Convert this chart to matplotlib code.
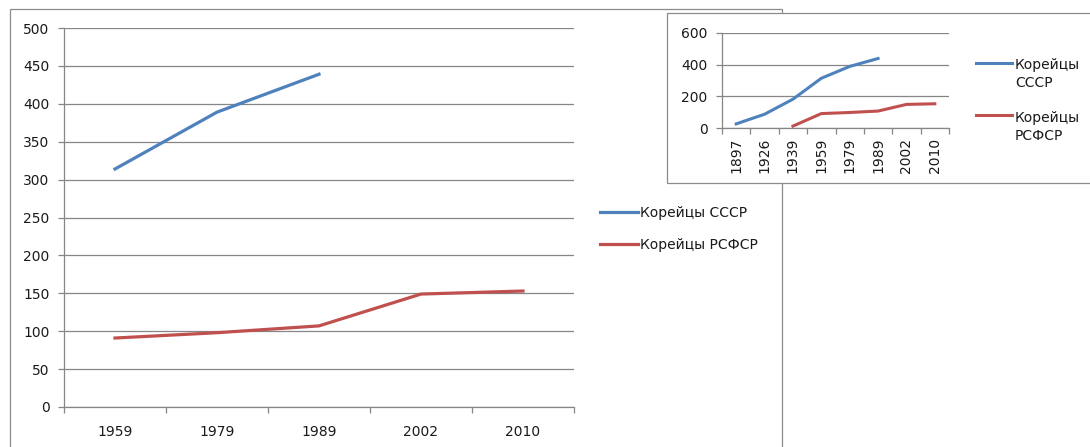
import matplotlib
matplotlib.use("Agg")
import matplotlib.pyplot as plt
from matplotlib.patches import Rectangle
from matplotlib.legend_handler import HandlerLine2D
import numpy as np

plt.rcParams['font.family'] = ['DejaVu Sans']

# Main chart data
main_years = ["1959", "1979", "1989", "2002", "2010"]
ussr_main = [314, 389, 439, None, None]
rsfsr_main = [91, 98, 107, 149, 153]

# Inset chart data
inset_years = ["1897", "1926", "1939", "1959", "1979", "1989", "2002", "2010"]
ussr_inset = [26, 87, 182, 314, 389, 439, None, None]
rsfsr_inset = [None, None, 12, 91, 98, 107, 149, 153]

main_ticks = [0, 50, 100, 150, 200, 250, 300, 350, 400, 450, 500]
inset_ticks = [0, 200, 400, 600]

label_ussr = "Корейцы СССР"
label_rsfsr = "Корейцы РСФСР"
label_ussr_inset = "Корейцы\nСССР"
label_rsfsr_inset = "Корейцы\nРСФСР"

BLUE = "#4F81BD"
RED = "#C0504D"
GRID = "#868686"
TXT = "#1a1a1a"
FS = 10

W, H = 1090, 447
fig = plt.figure(figsize=(W / 100, H / 100), dpi=100)
fig.patch.set_facecolor("white")


def fx(px):
    return px / W


def fy(py):
    return 1 - py / H


class TopHandler(HandlerLine2D):
    """Place the legend line at the first text line of a two-line label."""
    def __init__(self, shift, **kw):
        super().__init__(**kw)
        self.shift = shift

    def create_artists(self, legend, orig_handle, xdescent, ydescent,
                       width, height, fontsize, trans):
        arts = super().create_artists(legend, orig_handle, xdescent, ydescent,
                                      width, height, fontsize, trans)
        for a in arts:
            a.set_ydata(np.asarray(a.get_ydata(), dtype=float) + self.shift)
        return arts


# Outer frame of the main chart
fig.add_artist(Rectangle((fx(10), fy(470)), fx(782) - fx(10), fy(9) - fy(470),
                         transform=fig.transFigure, fill=False,
                         edgecolor="#8c8c8c", lw=0.9, zorder=0))


def to_arr(v):
    return np.array([np.nan if x is None else x for x in v], dtype=float)


def style_axes(ax, n, ticks, fs):
    ax.set_xlim(-0.5, n - 0.5)
    ax.set_ylim(ticks[0], ticks[-1])
    for s in ["top", "right"]:
        ax.spines[s].set_visible(False)
    for s in ["left", "bottom"]:
        ax.spines[s].set_color(GRID)
        ax.spines[s].set_linewidth(0.9)
    ax.set_yticks(ticks)
    ax.set_yticklabels([str(t) for t in ticks], fontsize=fs, color=TXT)
    ax.yaxis.grid(True, color=GRID, lw=0.9)
    ax.set_axisbelow(True)
    ax.tick_params(axis="y", length=4.5, width=0.9, color=GRID, pad=6)
    ax.set_xticks(np.arange(-0.5, n, 1.0))
    ax.set_xticklabels([])
    ax.tick_params(axis="x", which="major", length=4, width=0.9, color=GRID)


# Main axes
ax = fig.add_axes([fx(64), fy(407), fx(574) - fx(64), fy(28) - fy(407)])
xm = np.arange(len(main_years))
ax.plot(xm, to_arr(ussr_main), color=BLUE, lw=2.3, label=label_ussr)
ax.plot(xm, to_arr(rsfsr_main), color=RED, lw=2.3, label=label_rsfsr)
style_axes(ax, len(main_years), main_ticks, FS)
ax.set_xticks(xm, minor=True)
ax.set_xticklabels(main_years, minor=True, fontsize=FS, color=TXT)
ax.tick_params(axis="x", which="minor", length=0, pad=13)
leg = ax.legend(loc="center left", bbox_to_anchor=(fx(600), fy(229)),
                bbox_transform=fig.transFigure, frameon=False, fontsize=FS,
                handlelength=2.75, handletextpad=0.15, labelspacing=1.3,
                borderaxespad=0, borderpad=0)
for t in leg.get_texts():
    t.set_color(TXT)

# Inset frame
fig.add_artist(Rectangle((fx(667), fy(183)), fx(1110) - fx(667), fy(13) - fy(183),
                         transform=fig.transFigure, facecolor="white",
                         edgecolor="#8c8c8c", lw=0.9, zorder=1))

ax2 = fig.add_axes([fx(722), fy(128), fx(949) - fx(722), fy(33) - fy(128)])
ax2.set_zorder(2)
ax2.patch.set_alpha(0)
xi = np.arange(len(inset_years))
l1, = ax2.plot(xi, to_arr(ussr_inset), color=BLUE, lw=2.2, label=label_ussr_inset)
l2, = ax2.plot(xi, to_arr(rsfsr_inset), color=RED, lw=2.2, label=label_rsfsr_inset)
style_axes(ax2, len(inset_years), inset_ticks, FS)
ax2.set_xticks(xi, minor=True)
ax2.set_xticklabels(inset_years, minor=True, fontsize=FS, color=TXT, rotation=90)
ax2.tick_params(axis="x", which="minor", length=0, pad=7)
leg2 = ax2.legend(loc="upper left", bbox_to_anchor=(fx(976), fy(58)),
                  bbox_transform=fig.transFigure, frameon=False, fontsize=FS,
                  handlelength=2.6, handletextpad=0.2, labelspacing=1.5,
                  borderaxespad=0, borderpad=0,
                  handler_map={l1: TopHandler(shift=FS * 0.85),
                               l2: TopHandler(shift=FS * 0.85)})
for t in leg2.get_texts():
    t.set_color(TXT)
    t.set_linespacing(1.35)

fig.savefig("out.png", dpi=100)
